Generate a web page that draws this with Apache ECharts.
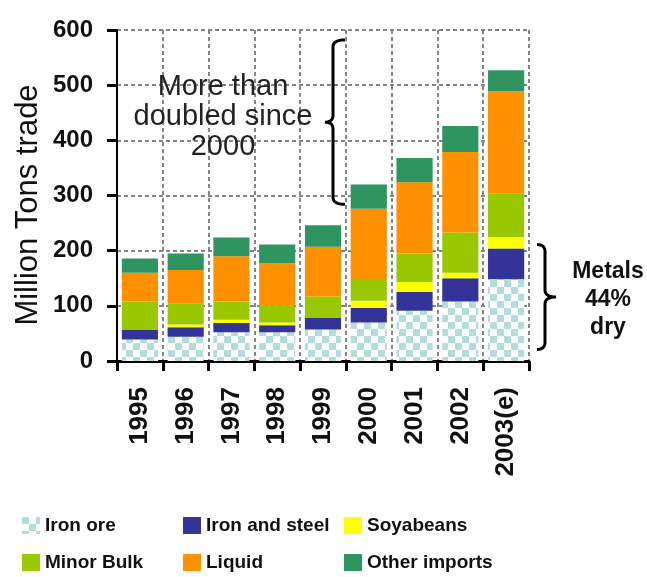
<!DOCTYPE html>
<html>
<head>
<meta charset="utf-8">
<script src="https://cdn.jsdelivr.net/npm/echarts@6/dist/echarts.min.js"></script>
<style>
  html, body { margin: 0; padding: 0; background: #ffffff; }
  #chart { width: 647px; height: 577px; }
</style>
</head>
<body>
<div id="chart"></div>
<script>
// Seaborne import volumes by cargo type, million tons
const years = ['1995', '1996', '1997', '1998', '1999', '2000', '2001', '2002', '2003(e)'];
const ironOre   = [39, 44, 52, 52, 57, 70, 91, 108, 148];
const ironSteel = [17, 17, 17, 13, 21, 26, 34, 42, 56];
const soyabeans = [0, 5, 6, 5, 0, 13, 18, 10, 21];
const minorBulk = [52, 38, 33, 30, 39, 38, 52, 73, 78];
const liquid    = [52, 61, 82, 77, 90, 129, 129, 146, 186];
const other     = [26, 30, 34, 34, 39, 44, 44, 47, 38];
const yTicks = { min: 0, max: 600, step: 100 };

const SANS = "'Liberation Sans', Arial, sans-serif";

// checkerboard fill used for iron ore
function checker(size, c1, c2) {
  const cv = document.createElement('canvas');
  cv.width = size * 2; cv.height = size * 2;
  const g = cv.getContext('2d');
  g.fillStyle = c2; g.fillRect(0, 0, size * 2, size * 2);
  g.fillStyle = c1;
  g.fillRect(0, 0, size, size);
  g.fillRect(size, size, size, size);
  return { image: cv, repeat: 'repeat' };
}
const orePattern = checker(7, '#b3dcdc', '#ffffff');

const seriesDefs = [
  { name: 'Iron ore',       data: ironOre,   color: orePattern },
  { name: 'Iron and steel', data: ironSteel, color: '#333399' },
  { name: 'Soyabeans',      data: soyabeans, color: '#ffff00' },
  { name: 'Minor Bulk',     data: minorBulk, color: '#99c700' },
  { name: 'Liquid',         data: liquid,    color: '#ff9000' },
  { name: 'Other imports',  data: other,     color: '#2e9460' }
];

const legendPos = [
  { name: 'Iron ore',       left: 22,  top: 516 },
  { name: 'Iron and steel', left: 183, top: 516 },
  { name: 'Soyabeans',      left: 344, top: 516 },
  { name: 'Minor Bulk',     left: 22,  top: 553 },
  { name: 'Liquid',         left: 183, top: 553 },
  { name: 'Other imports',  left: 344, top: 553 }
];

const gridStyle = { color: '#858585', width: 2, type: [4, 3] };

const chart = echarts.init(document.getElementById('chart'), null, { renderer: 'canvas' });

chart.setOption({
  animation: false,
  backgroundColor: '#ffffff',
  grid: { left: 117, right: 118, top: 30, bottom: 216, containLabel: false },
  legend: legendPos.map(p => ({
    data: [p.name],
    left: p.left,
    top: p.top,
    padding: 0,
    itemWidth: 18,
    itemHeight: 17,
    itemGap: 0,
    icon: 'rect',
    selectedMode: false,
    textStyle: { fontFamily: SANS, fontWeight: 'bold', fontSize: 19, color: '#111' }
  })),
  xAxis: {
    type: 'category',
    data: years,
    boundaryGap: true,
    axisLine: { lineStyle: { color: '#000', width: 3 } },
    axisTick: { show: true, length: 10, lineStyle: { color: '#000', width: 3 } },
    axisLabel: {
      rotate: 90, margin: 26, color: '#111',
      fontFamily: SANS, fontWeight: 'bold', fontSize: 26
    },
    splitLine: { show: true, lineStyle: gridStyle }
  },
  yAxis: {
    type: 'value',
    min: yTicks.min, max: yTicks.max, interval: yTicks.step,
    axisLine: { show: true, lineStyle: { color: '#000', width: 2 } },
    axisTick: { show: true, length: 10, lineStyle: { color: '#000', width: 3 } },
    axisLabel: { margin: 24, color: '#111', fontFamily: SANS, fontWeight: 'bold', fontSize: 24 },
    splitLine: { show: true, lineStyle: gridStyle }
  },
  series: seriesDefs.map(s => ({
    name: s.name,
    type: 'bar',
    stack: 'trade',
    barCategoryGap: '21%',
    data: s.data,
    itemStyle: { color: s.color }
  }))
});

// annotations anchored to the value scale
function py(val) { return chart.convertToPixel({ gridIndex: 0 }, [0, val])[1]; }

// curly brace as a polyline: ends at xEnd, shaft at xLine, point at xTip
function bracePoints(xTip, xLine, xEnd, yTop, yBot) {
  const yMid = (yTop + yBot) / 2, r = 7, pts = [];
  const quad = (p0, c, p1) => {
    for (let i = 0; i <= 8; i++) {
      const t = i / 8, u = 1 - t;
      pts.push([u * u * p0[0] + 2 * u * t * c[0] + t * t * p1[0],
                u * u * p0[1] + 2 * u * t * c[1] + t * t * p1[1]]);
    }
  };
  quad([xEnd, yTop], [xLine, yTop], [xLine, yTop + r]);
  quad([xLine, yMid - r], [xLine, yMid], [xTip, yMid]);
  quad([xTip, yMid], [xLine, yMid], [xLine, yMid + r]);
  quad([xLine, yBot - r], [xLine, yBot], [xEnd, yBot]);
  return pts;
}

const bTop = py(582), bBot = py(284);
const mTop = py(211), mBot = py(21);

chart.setOption({
  graphic: [
    {
      type: 'text', x: 28, y: 205, rotation: Math.PI / 2,
      style: { text: 'Million Tons trade', fontFamily: SANS, fontSize: 31, fill: '#111', align: 'center', verticalAlign: 'middle' }
    },
    {
      type: 'text', x: 223, y: 117,
      style: { text: 'More than\ndoubled since\n2000', fontFamily: SANS, fontSize: 29, lineHeight: 30, fill: '#222', align: 'center', verticalAlign: 'middle' }
    },
    {
      type: 'polyline', shape: { points: bracePoints(325, 333, 345, bTop, bBot) },
      style: { fill: null, stroke: '#000', lineWidth: 3 }
    },
    {
      type: 'polyline', shape: { points: bracePoints(556, 545, 537, mTop, mBot) },
      style: { fill: null, stroke: '#000', lineWidth: 3 }
    },
    {
      type: 'text', x: 608, y: 300,
      style: { text: 'Metals\n44%\ndry', fontFamily: SANS, fontWeight: 'bold', fontSize: 23, lineHeight: 28, fill: '#111', align: 'center', verticalAlign: 'middle' }
    }
  ]
});
</script>
</body>
</html>
